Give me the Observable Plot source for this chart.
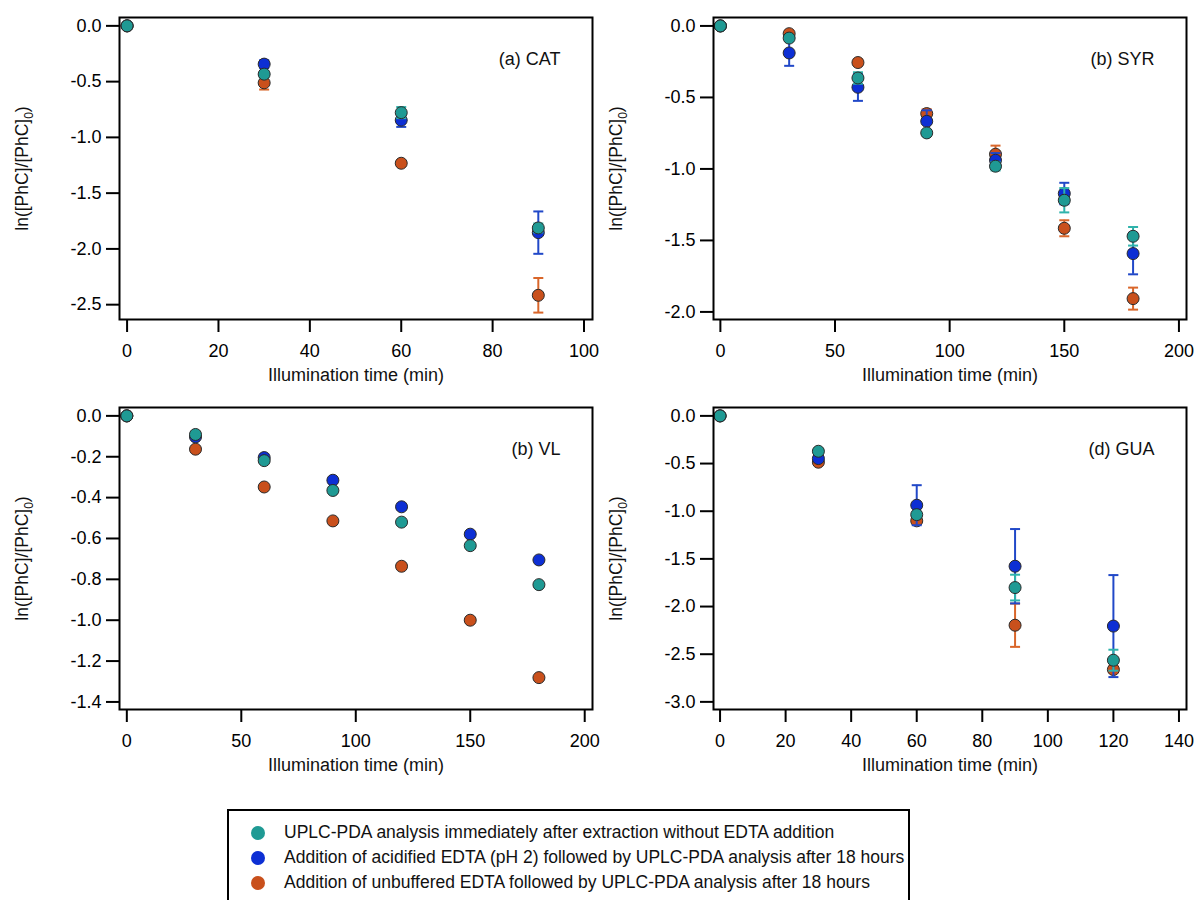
<!DOCTYPE html>
<html><head><meta charset="utf-8">
<script src="https://cdn.jsdelivr.net/npm/d3@7"></script>
<script src="https://cdn.jsdelivr.net/npm/@observablehq/plot@0.6"></script>
<style>
body{margin:0;background:#fff;}
#root{position:relative;width:1195px;height:900px;overflow:hidden;font-family:"Liberation Sans",Arial,sans-serif;}
.panel{position:absolute;}
#legend{position:absolute;left:227px;top:809px;width:683px;height:120px;border:2px solid #000;box-sizing:border-box;}
.item{position:absolute;left:0;height:25px;display:flex;align-items:center;font-size:17.5px;color:#111;white-space:nowrap;}
.sw{display:inline-block;width:14px;height:14px;border-radius:50%;margin-left:22px;margin-right:19px;}
</style></head><body><div id="root"></div><script>
// ---------- data ----------
const seriesNames = [
  "UPLC-PDA analysis immediately after extraction without EDTA addition",
  "Addition of acidified EDTA (pH 2) followed by UPLC-PDA analysis after 18 hours",
  "Addition of unbuffered EDTA followed by UPLC-PDA analysis after 18 hours"
];
const seriesColors = ["#1f9a94", "#0d2fd4", "#c9501c"];
const errorColors  = ["#2fb3ab", "#2148c8", "#d9662a"];

const xLabel = "Illumination time (min)";
const yLabelMain = "ln([PhC]/[PhC]";
const yLabelSub = "0";
const yLabelEnd = ")";

// (a) CAT
const catTime      = [0, 30, 60, 90];
const catTeal      = [0, -0.433, -0.778, -1.812];
const catTealErr   = [0, 0.03, 0.05, 0.04];
const catBlue      = [0, -0.343, -0.846, -1.854];
const catBlueErr   = [0, 0.035, 0.06, 0.19];
const catOrange    = [0, -0.511, -1.232, -2.416];
const catOrangeErr = [0, 0.06, 0.02, 0.155];

// (b) SYR
const syrTime      = [0, 30, 60, 90, 120, 150, 180];
const syrTeal      = [0, -0.085, -0.364, -0.748, -0.981, -1.219, -1.471];
const syrTealErr   = [0, 0.02, 0.04, 0.02, 0.03, 0.085, 0.065];
const syrBlue      = [0, -0.189, -0.429, -0.667, -0.939, -1.172, -1.592];
const syrBlueErr   = [0, 0.09, 0.095, 0.077, 0.05, 0.075, 0.145];
const syrOrange    = [0, -0.054, -0.256, -0.613, -0.897, -1.415, -1.907];
const syrOrangeErr = [0, 0.02, 0.02, 0.03, 0.06, 0.056, 0.077];

// (b) VL
const vlTime      = [0, 30, 60, 90, 120, 150, 180];
const vlTeal      = [0, -0.091, -0.219, -0.365, -0.520, -0.635, -0.826];
const vlTealErr   = [0, 0, 0, 0, 0, 0, 0];
const vlBlue      = [0, -0.103, -0.204, -0.315, -0.445, -0.579, -0.705];
const vlBlueErr   = [0, 0, 0, 0, 0, 0, 0];
const vlOrange    = [0, -0.163, -0.348, -0.514, -0.736, -1.000, -1.281];
const vlOrangeErr = [0, 0, 0, 0, 0, 0, 0];

// (d) GUA
const guaTime      = [0, 30, 60, 90, 120];
const guaTeal      = [0, -0.371, -1.036, -1.801, -2.563];
const guaTealErr   = [0, 0.02, 0.03, 0.135, 0.11];
const guaBlue      = [0, -0.448, -0.937, -1.577, -2.205];
const guaBlueErr   = [0, 0.03, 0.21, 0.39, 0.535];
const guaOrange    = [0, -0.486, -1.101, -2.196, -2.661];
const guaOrangeErr = [0, 0.02, 0.03, 0.227, 0.03];

// tick labels
const catXTicks = [0, 20, 40, 60, 80, 100];
const catYTicks = [0, -0.5, -1.0, -1.5, -2.0, -2.5];
const syrXTicks = [0, 50, 100, 150, 200];
const syrYTicks = [0, -0.5, -1.0, -1.5, -2.0];
const vlXTicks  = [0, 50, 100, 150, 200];
const vlYTicks  = [0, -0.2, -0.4, -0.6, -0.8, -1.0, -1.2, -1.4];
const guaXTicks = [0, 20, 40, 60, 80, 100, 120, 140];
const guaYTicks = [0, -0.5, -1.0, -1.5, -2.0, -2.5, -3.0];

// ---------- panels ----------
const panels = [
  {title: "(a) CAT", time: catTime, vals: [catTeal, catBlue, catOrange], errs: [catTealErr, catBlueErr, catOrangeErr],
   xd: [-1.66, 101.86], yd: [-2.633, 0.075], xt: catXTicks, yt: catYTicks, left: 0, top: 0},
  {title: "(b) SYR", time: syrTime, vals: [syrTeal, syrBlue, syrOrange], errs: [syrTealErr, syrBlueErr, syrOrangeErr],
   xd: [-3.0, 203.3], yd: [-2.053, 0.059], xt: syrXTicks, yt: syrYTicks, left: 594, top: 0},
  {title: "(b) VL", time: vlTime, vals: [vlTeal, vlBlue, vlOrange], errs: [vlTealErr, vlBlueErr, vlOrangeErr],
   xd: [-3.2, 203.4], yd: [-1.437, 0.041], xt: vlXTicks, yt: vlYTicks, left: 0, top: 390},
  {title: "(d) GUA", time: guaTime, vals: [guaTeal, guaBlue, guaOrange], errs: [guaTealErr, guaBlueErr, guaOrangeErr],
   xd: [-2.0, 142.3], yd: [-3.08, 0.088], xt: guaXTicks, yt: guaYTicks, left: 594, top: 390}
];

const FONT = '"Liberation Sans", Arial, sans-serif';
const capSymbol = {draw(ctx) { ctx.moveTo(-5, 0); ctx.lineTo(5, 0); }};
const root = document.getElementById("root");
const yLabelFull = yLabelMain + yLabelSub + yLabelEnd;

for (const p of panels) {
  const marks = [];
  // draw order: orange, blue, teal (teal on top)
  for (const s of [2, 1, 0]) {
    const rows = p.time.map((t, i) => ({t, v: p.vals[s][i], e: p.errs[s][i]}));
    const errRows = rows.filter(d => d.e > 0);
    marks.push(Plot.ruleX(errRows, {x: "t", y1: d => d.v - d.e, y2: d => d.v + d.e, stroke: errorColors[s], strokeWidth: 2}));
    marks.push(Plot.dot(errRows, {x: "t", y: d => d.v - d.e, symbol: capSymbol, fill: "none", stroke: errorColors[s], strokeWidth: 2}));
    marks.push(Plot.dot(errRows, {x: "t", y: d => d.v + d.e, symbol: capSymbol, fill: "none", stroke: errorColors[s], strokeWidth: 2}));
    marks.push(Plot.dot(rows, {x: "t", y: "v", r: 6, fill: seriesColors[s], stroke: "#2a2a2a", strokeWidth: 1}));
  }
  marks.push(Plot.frame({stroke: "#000", strokeWidth: 2}));
  marks.push(Plot.axisX({ticks: p.xt, tickSize: 13, tickPadding: 12, tickFormat: d => String(d), fontSize: 18, label: null, strokeWidth: 2, stroke: "#000", color: "#000"}));
  marks.push(Plot.axisY({ticks: p.yt, tickSize: 13, tickPadding: 5, tickFormat: d => d.toFixed(1), fontSize: 18, label: null, strokeWidth: 2, stroke: "#000", color: "#000"}));
  marks.push(Plot.text([xLabel], {text: d => d, frameAnchor: "bottom", dy: 61, fontSize: 18, fill: "#111"}));
  marks.push(Plot.text([yLabelFull], {text: d => d, frameAnchor: "left", textAnchor: "middle", dx: -97, rotate: -90, fontSize: 17.5, fill: "#111"}));
  marks.push(Plot.text([p.title], {text: d => d, frameAnchor: "top-right", dx: -32, dy: 35, textAnchor: "end", fontSize: 18, fill: "#111"}));

  const svg = Plot.plot({
    width: 600, height: 395,
    marginLeft: 119, marginRight: 8, marginTop: 17, marginBottom: 76,
    x: {domain: p.xd},
    y: {domain: p.yd},
    style: {fontFamily: FONT, background: "transparent", color: "#000"},
    marks
  });
  // subscript in y label
  svg.querySelectorAll("text").forEach(t => {
    if (t.textContent === yLabelFull) {
      t.textContent = "";
      const ns = "http://www.w3.org/2000/svg";
      const a = document.createElementNS(ns, "tspan"); a.textContent = yLabelMain;
      const b = document.createElementNS(ns, "tspan"); b.textContent = yLabelSub; b.setAttribute("dy", "5"); b.setAttribute("font-size", "12");
      const c = document.createElementNS(ns, "tspan"); c.textContent = yLabelEnd; c.setAttribute("dy", "-5");
      t.append(a, b, c);
    }
  });
  const wrap = document.createElement("div");
  wrap.className = "panel";
  wrap.style.left = p.left + "px";
  wrap.style.top = p.top + "px";
  wrap.appendChild(svg);
  root.appendChild(wrap);
}

// ---------- legend ----------
const legend = document.createElement("div");
legend.id = "legend";
seriesNames.forEach((name, i) => {
  const it = document.createElement("div");
  it.className = "item";
  it.style.top = (9 + i * 25) + "px";
  const sw = document.createElement("span");
  sw.className = "sw";
  sw.style.background = seriesColors[i];
  const tx = document.createElement("span");
  tx.textContent = name;
  it.append(sw, tx);
  legend.appendChild(it);
});
root.appendChild(legend);
</script></body></html>
